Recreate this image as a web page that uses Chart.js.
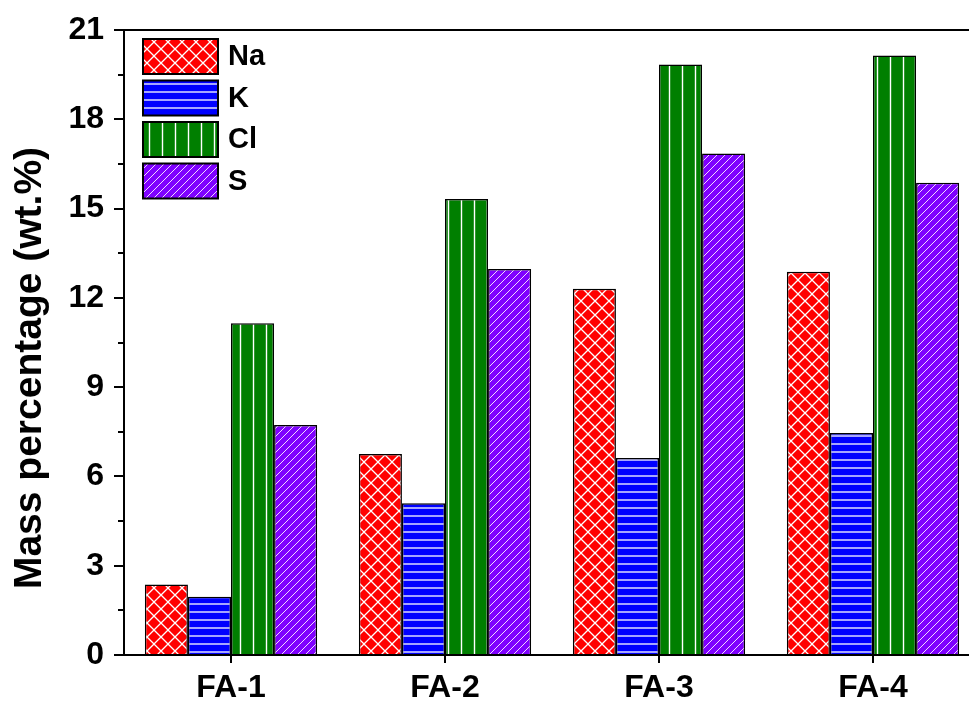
<!DOCTYPE html>
<html>
<head>
<meta charset="utf-8">
<script src="https://cdn.jsdelivr.net/npm/chart.js@4"></script>
<style>
  html, body { margin: 0; padding: 0; background: #fff; overflow: hidden; }
  #myChart { display: block; }
</style>
</head>
<body>
<canvas id="myChart" width="990" height="707"></canvas>
<script>
const categories = ['FA-1', 'FA-2', 'FA-3', 'FA-4'];
const seriesNames = ['Na', 'K', 'Cl', 'S'];
const naValues = [2.37, 6.75, 12.31, 12.88];
const kValues = [1.96, 5.1, 6.62, 7.46];
const clValues = [11.15, 15.32, 19.84, 20.14];
const sValues = [7.73, 12.97, 16.85, 15.87];
const yTicks = [0, 3, 6, 9, 12, 15, 18, 21];
const yTitle = 'Mass percentage (wt.%)';

const FONT = '"Liberation Sans", Arial, sans-serif';

function makePattern(bg, size, drawLines) {
  const c = document.createElement('canvas');
  c.width = size[0];
  c.height = size[1];
  const g = c.getContext('2d');
  g.fillStyle = bg;
  g.fillRect(0, 0, c.width, c.height);
  g.strokeStyle = '#ffffff';
  drawLines(g, c.width, c.height);
  return g.createPattern(c, 'repeat');
}

const ctx = document.getElementById('myChart');

// crosshatch for Na
const naFill = makePattern('#ff0000', [14, 14], (g, w, h) => {
  g.lineWidth = 1.3;
  g.beginPath();
  g.moveTo(0, 0); g.lineTo(w, h);
  g.moveTo(w, 0); g.lineTo(0, h);
  g.stroke();
});
// horizontal lines for K
const kFill = makePattern('#0000ff', [8, 8], (g, w) => {
  g.lineWidth = 1.3;
  g.beginPath();
  g.moveTo(0, 4); g.lineTo(w, 4);
  g.stroke();
});
// vertical lines for Cl
const clFill = makePattern('#007f00', [13, 13], (g, w, h) => {
  g.lineWidth = 1.4;
  g.beginPath();
  g.moveTo(6.5, 0); g.lineTo(6.5, h);
  g.stroke();
});
// diagonal lines for S
const sFill = makePattern('#7f00ff', [8, 8], (g, w, h) => {
  g.lineWidth = 1;
  g.strokeStyle = '#f0d8ff';
  g.beginPath();
  g.moveTo(0, h); g.lineTo(w, 0);
  g.moveTo(-1, 1); g.lineTo(1, -1);
  g.moveTo(w - 1, h + 1); g.lineTo(w + 1, h - 1);
  g.stroke();
});

const fills = [naFill, kFill, clFill, sFill];
const allValues = [naValues, kValues, clValues, sValues];

const framePlugin = {
  id: 'frame',
  afterDraw(chart) {
    const { ctx: g, chartArea: a, scales } = chart;
    const y = scales.y;
    g.save();
    // top frame line
    g.strokeStyle = '#000';
    g.lineWidth = 2;
    g.beginPath();
    g.moveTo(a.left, a.top);
    g.lineTo(a.right + 2, a.top);
    g.stroke();
    // minor ticks
    for (let i = 0; i < yTicks.length - 1; i += 1) {
      const v = (yTicks[i] + yTicks[i + 1]) / 2;
      const py = Math.round(y.getPixelForValue(v));
      g.beginPath();
      g.moveTo(a.left - 6, py);
      g.lineTo(a.left, py);
      g.stroke();
    }
    // y title
    g.fillStyle = '#000';
    g.font = `bold 39px ${FONT}`;
    g.textAlign = 'center';
    g.textBaseline = 'middle';
    g.translate(30, 368);
    g.rotate(-Math.PI / 2);
    g.fillText(yTitle, 0, 0);
    g.restore();

    // legend
    g.save();
    const lx = a.left + 19;
    const ly = a.top + 9;
    chart.data.datasets.forEach((ds, i) => {
      const by = ly + i * 41.5;
      g.fillStyle = ds.backgroundColor;
      g.fillRect(lx, by, 75, 35);
      g.strokeStyle = '#000';
      g.lineWidth = 2;
      g.strokeRect(lx, by, 75, 35);
      g.fillStyle = '#000';
      g.font = `bold 29px ${FONT}`;
      g.textAlign = 'left';
      g.textBaseline = 'middle';
      g.fillText(ds.label, lx + 85, by + 18);
    });
    g.restore();
  },
};

// eslint-disable-next-line no-undef, no-new
new Chart(ctx, {
  type: 'bar',
  data: {
    labels: categories,
    datasets: seriesNames.map((name, i) => ({
      label: name,
      data: allValues[i],
      backgroundColor: fills[i],
      borderColor: '#000',
      borderWidth: 1.5,
      barPercentage: 1,
      categoryPercentage: 0.805,
    })),
  },
  options: {
    responsive: false,
    animation: false,
    devicePixelRatio: 1,
    layout: { padding: { top: 30, right: 10, left: 0, bottom: 0 } },
    plugins: {
      legend: { display: false },
      tooltip: { enabled: false },
    },
    scales: {
      x: {
        afterFit(scale) { scale.height = 52; },
        grid: {
          offset: false,
          drawOnChartArea: false,
          tickLength: 8,
          lineWidth: 2,
          color: '#000',
        },
        border: { display: true, color: '#000', width: 2 },
        ticks: {
          color: '#000',
          padding: 6,
          font: { family: FONT, size: 32, weight: 'bold' },
        },
      },
      y: {
        min: 0,
        max: 21,
        afterFit(scale) { scale.width = 124; },
        afterBuildTicks(scale) { scale.ticks = yTicks.map((v) => ({ value: v })); },
        grid: {
          drawOnChartArea: false,
          tickLength: 10,
          lineWidth: 2,
          color: '#000',
        },
        border: { display: true, color: '#000', width: 2 },
        ticks: {
          color: '#000',
          padding: 10,
          font: { family: FONT, size: 32, weight: 'bold' },
        },
      },
    },
  },
  plugins: [framePlugin],
});
</script>
</body>
</html>
